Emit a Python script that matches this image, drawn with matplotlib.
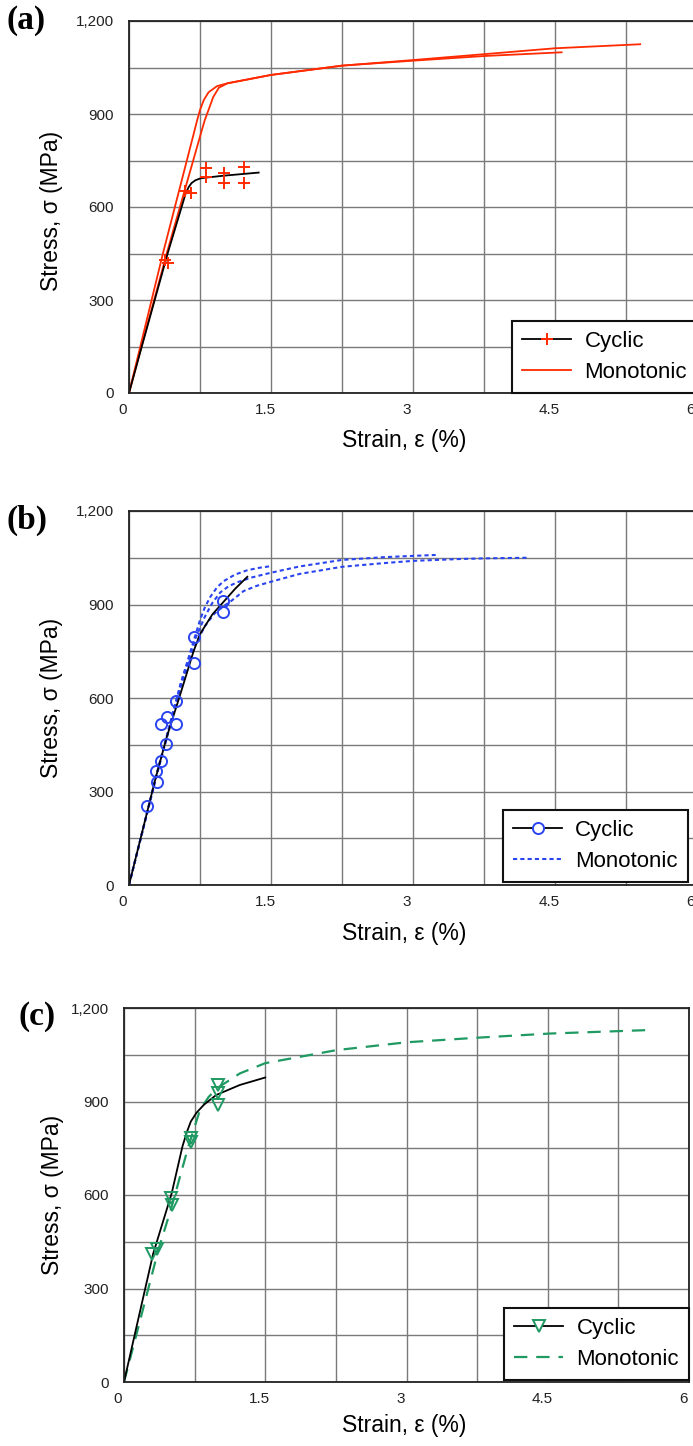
import matplotlib
matplotlib.use("Agg")
import matplotlib.pyplot as plt
import matplotlib.transforms as mtransforms
from matplotlib.lines import Line2D
from matplotlib.ticker import MultipleLocator, FuncFormatter

plt.rcParams['font.family'] = ['Liberation Sans', 'DejaVu Sans']

# ---- panel (a) ----
mono_a1_x = [0, 0.36, 0.68, 0.72, 0.75, 0.79, 0.84, 0.93, 1.04, 1.5, 2.25, 3.0, 3.75, 4.5, 5.40]
mono_a1_y = [0, 452, 832, 880, 913, 945, 970, 990, 999, 1026, 1056, 1074, 1093, 1112, 1125]
mono_a2_x = [0, 0.40, 0.75, 0.80, 0.84, 0.89, 0.95, 1.04, 1.5, 2.25, 3.0, 3.75, 4.57]
mono_a2_y = [0, 452, 827, 880, 913, 955, 985, 999, 1026, 1056, 1072, 1087, 1099]
cyc_a_x = [0, 0.134, 0.41, 0.60, 0.63, 0.66, 0.70, 0.76, 1.0, 1.37]
cyc_a_y = [0, 149, 452, 645, 664, 677, 686, 693, 701, 711]
pts_a_x = [0.38, 0.41, 0.59, 0.65, 0.81, 0.81, 1.0, 1.0, 1.21, 1.21]
pts_a_y = [429, 419, 653, 646, 726, 697, 709, 678, 730, 678]

# ---- panel (b) ----
cyc_b_x = [0, 0.276, 0.40, 0.54, 0.68, 0.75, 0.88, 1.0, 1.12, 1.25]
cyc_b_y = [0, 337, 476, 610, 748, 805, 868, 909, 950, 989]
mono_b1_x = [0, 0.3, 0.55, 0.70, 0.75, 0.80, 0.86, 0.93, 1.0, 1.12, 1.25, 1.38, 1.5]
mono_b1_y = [0, 365, 650, 800, 850, 890, 925, 955, 975, 996, 1010, 1018, 1023]
mono_b2_x = [0, 0.3, 0.55, 0.70, 0.80, 0.88, 0.965, 1.05, 1.14, 1.3, 1.5, 1.8, 2.25, 2.7, 3.0, 3.24]
mono_b2_y = [0, 365, 650, 790, 860, 905, 939, 958, 971, 987, 1002, 1022, 1043, 1052, 1056, 1059]
mono_b3_x = [0, 0.3, 0.55, 0.70, 0.80, 0.90, 1.0, 1.07, 1.21, 1.35, 1.5, 1.8, 2.25, 2.7, 3.0, 3.5, 3.75, 4.2]
mono_b3_y = [0, 360, 640, 770, 830, 870, 895, 909, 943, 960, 973, 998, 1021, 1033, 1040, 1046, 1048, 1050]
pts_b_x = [0.19, 0.30, 0.29, 0.34, 0.39, 0.34, 0.40, 0.50, 0.50, 0.69, 0.69, 0.99, 0.99]
pts_b_y = [253, 331, 367, 399, 452, 516, 540, 516, 591, 713, 797, 876, 912]

# ---- panel (c) ----
cyc_c_x = [0, 0.15, 0.31, 0.506, 0.62, 0.665, 0.71, 0.77, 0.85, 0.98, 1.23, 1.50]
cyc_c_y = [0, 200, 412, 605, 755, 800, 836, 864, 890, 921, 953, 977]
mono_c_x = [0, 0.135, 0.364, 0.506, 0.683, 0.807, 0.9, 1.0, 1.23, 1.50, 2.26, 3.0, 3.77, 4.52, 5.55]
mono_c_y = [0, 156, 423, 562, 755, 873, 915, 945, 990, 1023, 1065, 1090, 1105, 1118, 1129]
pts_c_x = [0.294, 0.347, 0.495, 0.506, 0.707, 0.707, 1.0, 1.0, 1.0]
pts_c_y = [412, 428, 589, 567, 782, 771, 953, 928, 889]

red = '#ff2a00'
blue = '#2a44f0'
green = '#1f9a62'

W, H = 693, 1446
fig = plt.figure(figsize=(W / 100, H / 100), dpi=100)


def make_axes(left, right, top, bottom):
    ax = fig.add_axes([left / W, 1 - bottom / H, (right - left) / W, (bottom - top) / H])
    ax.set_xlim(0, 6)
    ax.set_ylim(0, 1200)
    ax.xaxis.set_major_locator(MultipleLocator(1.5))
    ax.xaxis.set_minor_locator(MultipleLocator(0.75))
    ax.yaxis.set_major_locator(MultipleLocator(300))
    ax.yaxis.set_minor_locator(MultipleLocator(150))
    ax.xaxis.set_major_formatter(FuncFormatter(lambda v, p: f"{v:g}"))
    ax.yaxis.set_major_formatter(FuncFormatter(lambda v, p: f"{int(v):,}"))
    ax.grid(True, which='both', color='#7a7a7a', lw=1.0)
    ax.set_axisbelow(True)
    ax.tick_params(which='both', length=0, labelsize=11, colors='#222222')
    ax.tick_params(axis='y', pad=11)
    ax.tick_params(axis='x', pad=7)
    for s in ax.spines.values():
        s.set_linewidth(1.3)
        s.set_color('#222222')
    off = mtransforms.ScaledTranslation(-6 / 100, 0, fig.dpi_scale_trans)
    for lbl in ax.get_xticklabels():
        lbl.set_transform(lbl.get_transform() + off)
    ax.set_xlabel('Strain, ε (%)', fontsize=16.5)
    ax.set_ylabel('Stress, σ (MPa)', fontsize=16.5)
    ax.xaxis.label.set_va('center')
    ax.yaxis.label.set_va('center')
    return ax


def add_legend(ax, handles, anchor):
    leg = ax.legend(handles, ['Cyclic', 'Monotonic'], loc='lower right', bbox_to_anchor=anchor,
                    fontsize=16, frameon=True, fancybox=False, edgecolor='#111111', framealpha=1,
                    handlelength=2.2, handletextpad=0.6, borderpad=0.45, labelspacing=0.45,
                    numpoints=1, borderaxespad=0)
    leg.get_frame().set_linewidth(1.5)


# (a)
ax1 = make_axes(129, 697, 21, 393)
ax1.plot(mono_a1_x, mono_a1_y, color=red, lw=1.3)
ax1.plot(mono_a2_x, mono_a2_y, color=red, lw=1.3)
ax1.plot(cyc_a_x, cyc_a_y, color='black', lw=1.3)
ax1.plot(pts_a_x, pts_a_y, ls='none', marker='+', color=red, ms=9, mew=1.4)
ax1.xaxis.set_label_coords(0.484, -0.129)
ax1.yaxis.set_label_coords(-0.136, 0.49)
add_legend(ax1, [Line2D([], [], color='black', lw=1.3, marker='+', mec=red, ms=9, mew=1.4),
                 Line2D([], [], color=red, lw=1.3)], (1.0, 0.0))

# (b)
ax2 = make_axes(129, 697, 511, 885)
for mx, my in [(mono_b1_x, mono_b1_y), (mono_b2_x, mono_b2_y), (mono_b3_x, mono_b3_y)]:
    ax2.plot(mx, my, color=blue, lw=1.5, ls=(0, (2, 1.5)))
ax2.plot(cyc_b_x, cyc_b_y, color='black', lw=1.3)
ax2.plot(pts_b_x, pts_b_y, ls='none', marker='o', mfc='none', mec=blue, ms=8, mew=1.4)
ax2.xaxis.set_label_coords(0.484, -0.131)
ax2.yaxis.set_label_coords(-0.136, 0.5)
add_legend(ax2, [Line2D([], [], color='black', lw=1.3, marker='o', mfc='white', mec=blue, ms=8, mew=1.4),
                 Line2D([], [], color=blue, lw=1.5, ls=(0, (2, 1.5)))], (0.984, 0.008))

# (c)
ax3 = make_axes(124, 689, 1008, 1382)
ax3.plot(mono_c_x, mono_c_y, color=green, lw=1.6, ls=(0, (6, 4)))
ax3.plot(cyc_c_x, cyc_c_y, color='black', lw=1.3)
ax3.plot(pts_c_x, pts_c_y, ls='none', marker='v', mfc='none', mec=green, ms=8, mew=1.4)
ax3.xaxis.set_label_coords(0.496, -0.115)
ax3.yaxis.set_label_coords(-0.127, 0.5)
add_legend(ax3, [Line2D([], [], color='black', lw=1.3, marker='v', mfc='white', mec=green, ms=8, mew=1.4),
                 Line2D([], [], color=green, lw=1.6, ls=(0, (6, 4)))], (1.0, 0.005))

for txt, x, y in [('(a)', 6, 20), ('(b)', 6, 520), ('(c)', 18, 1016)]:
    fig.text(x / W, 1 - y / H, txt, fontsize=24, fontweight='bold', family='Liberation Serif',
             ha='left', va='center')

fig.savefig('out.png', dpi=100)
